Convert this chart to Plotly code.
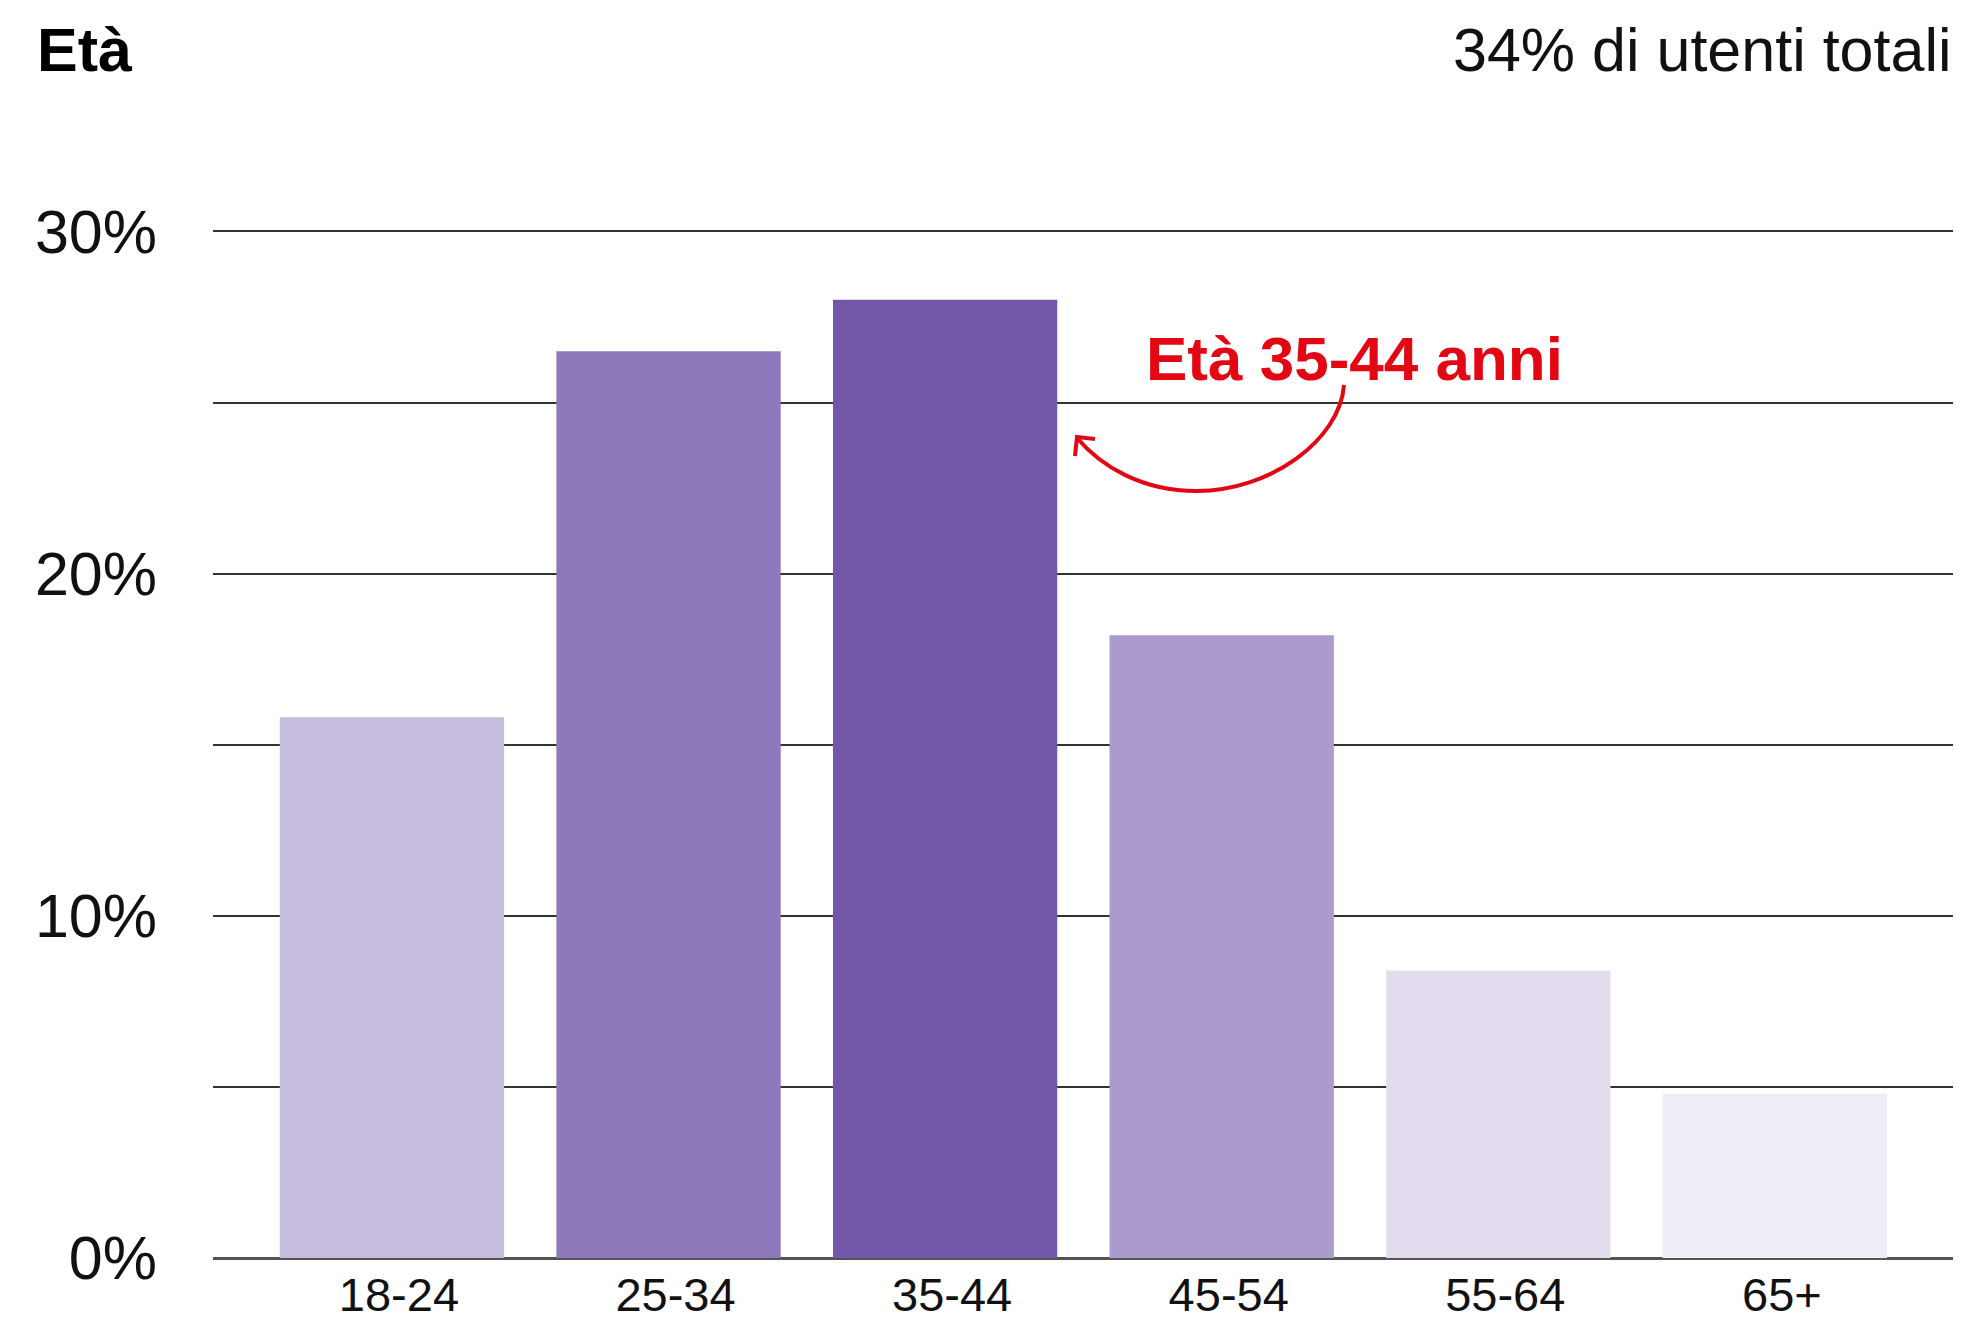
import plotly.graph_objects as go

categories = ["18-24", "25-34", "35-44", "45-54", "55-64", "65+"]
values = [15.8, 26.5, 28.0, 18.2, 8.4, 4.8]
colors = ["#c6bcdd", "#8e79bd", "#7256a8", "#ab9bcc", "#e2dcee", "#efecf7"]
y_tickvals = [0, 10, 20, 30]
y_ticktext = ["0%", "10%", "20%", "30%"]
title_text = "Età"
subtitle_text = "34% di utenti totali"
callout_text = "Età 35-44 anni"

OFF = 8  # page body margin
W, H = 1966 - OFF, 1321 - OFF
ML, MR, MT, MB = 213 - OFF, 13, 220, 63
PW, PH = W - ML - MR, H - MT - MB

def px(x):
    return (x - OFF - ML) / PW

def py(y):
    return (H - MB - (y - OFF)) / PH

FONT = "Liberation Sans, Arial, sans-serif"
RED = "#e30613"

fig = go.Figure(go.Bar(
    x=categories, y=values, marker=dict(color=colors, line=dict(width=0)),
    hoverinfo="skip",
))

curve = (f"M {px(1344)},{py(385)} "
         f"C {px(1340)},{py(440)} {px(1270)},{py(491)} {px(1197)},{py(491)} "
         f"C {px(1140)},{py(491)} {px(1100)},{py(465)} {px(1077)},{py(438)}")
head = (f"M {px(1095)},{py(439)} L {px(1077)},{py(437)} L {px(1075)},{py(456)}")

fig.update_layout(
    width=W, height=H,
    margin=dict(l=ML, r=MR, t=MT, b=MB, pad=0),
    paper_bgcolor="white", plot_bgcolor="white",
    showlegend=False,
    bargap=0.189,
    font=dict(family=FONT, color="#111111"),
    xaxis=dict(
        type="category", range=[-0.647, 5.644], showgrid=False, showline=False,
        ticks="", tickfont=dict(size=47, family=FONT, color="#111111"),
        ticklabelstandoff=5, ticklabelshift=7, automargin=False, fixedrange=True,
    ),
    yaxis=dict(
        range=[0, 30.1], tickvals=y_tickvals, ticktext=y_ticktext,
        showgrid=True, gridcolor="#333333", gridwidth=1.5,
        minor=dict(tickvals=[5, 15, 25], showgrid=True, gridcolor="#333333", gridwidth=1.5),
        zeroline=True, zerolinecolor="#555555", zerolinewidth=3,
        showline=False, ticks="", tickfont=dict(size=61, family=FONT, color="#111111"),
        ticklabelstandoff=55, automargin=False, fixedrange=True,
    ),
    shapes=[
        dict(type="path", path=curve, xref="paper", yref="paper",
             line=dict(color=RED, width=4)),
        dict(type="path", path=head, xref="paper", yref="paper",
             line=dict(color=RED, width=4)),
    ],
    annotations=[
        dict(text=f"<b>{title_text}</b>", x=px(35), y=py(50), xref="paper", yref="paper",
             xanchor="left", yanchor="middle", showarrow=False,
             font=dict(size=61, family=FONT, color="#000000")),
        dict(text=subtitle_text, x=1, y=py(50), xref="paper", yref="paper",
             xanchor="right", yanchor="middle", showarrow=False,
             font=dict(size=61, family=FONT, color="#111111")),
        dict(text=f"<b>{callout_text}</b>", x=px(1354), y=py(358), xref="paper", yref="paper",
             xanchor="center", yanchor="middle", showarrow=False,
             font=dict(size=62, family=FONT, color=RED)),
    ],
)

fig.write_html("out.html")
